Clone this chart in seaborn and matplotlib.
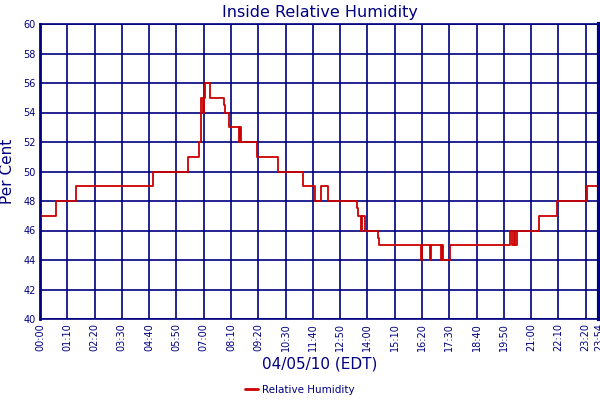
import numpy as np
import pandas as pd
import seaborn as sns
import matplotlib
matplotlib.use("Agg")
import matplotlib.pyplot as plt
from matplotlib.lines import Line2D

# Step change points (minutes after midnight, % RH)
minutes = [0, 40, 92, 291, 379, 409, 412, 414, 417, 420, 423, 436, 471, 475,
           486, 511, 513, 516, 557, 611, 674, 706, 722, 739, 813, 816, 823,
           826, 835, 867, 869, 977, 979, 1000, 1003, 1028, 1032, 1034, 1052,
           1206, 1211, 1216, 1219, 1224, 1281, 1327, 1404, 1434]
humidity = [47, 48, 49, 50, 51, 52, 54.5, 55, 54, 55, 56, 55, 54.5, 54,
            53, 52, 53, 52, 51, 50, 49, 48, 49, 48, 47.5, 47, 46,
            47, 46, 45.5, 45, 44, 45, 44, 45, 44, 45, 44, 45,
            46, 45, 46, 45, 46, 47, 48, 49, 49]

tick_minutes = list(range(0, 1401, 70)) + [1434]
tick_labels = ["%02d:%02d" % (m // 60, m % 60) for m in tick_minutes]

navy = "#000080"
red = "#cc0000"
df = pd.DataFrame({"minute": minutes, "rh": humidity})

sns.set_style("white")
plt.rcParams["font.family"] = ["DejaVu Sans"]

fig = plt.figure(figsize=(6, 4), dpi=100)
ax = fig.add_axes([40 / 600, 81 / 400, 559 / 600, 295 / 400])

sns.lineplot(data=df, x="minute", y="rh", ax=ax, color=red,
             linewidth=1.3, drawstyle="steps-post", legend=False)

ax.set_xlim(0, 1434)
ax.set_ylim(40, 60)
ax.set_xticks(tick_minutes)
ax.set_xticklabels(tick_labels, rotation=90, fontsize=7, color=navy)
ax.set_yticks(range(40, 61, 2))
ax.set_yticklabels([str(v) for v in range(40, 61, 2)], fontsize=7, color=navy)
ax.tick_params(length=0, pad=3)
ax.grid(True, color=navy, linewidth=1.2)
ax.set_axisbelow(True)

for side, lw in [("left", 2), ("bottom", 1.2), ("top", 1.2), ("right", 3)]:
    ax.spines[side].set_color(navy)
    ax.spines[side].set_linewidth(lw)
    ax.spines[side].set_visible(True)

ax.set_title("Inside Relative Humidity", fontsize=11.5, color=navy, pad=5)
ax.set_xlabel("04/05/10 (EDT)", fontsize=11, color=navy, labelpad=4)
ax.set_ylabel("Per Cent", fontsize=11, color=navy, labelpad=6)

handle = Line2D([], [], color=red, linewidth=2)
fig.legend([handle], ["Relative Humidity"], loc="lower center",
           bbox_to_anchor=(0.5, -0.01), frameon=False, fontsize=7.5,
           handlelength=1.2, handletextpad=0.4, labelcolor=navy)

fig.savefig("out.png", dpi=100)
